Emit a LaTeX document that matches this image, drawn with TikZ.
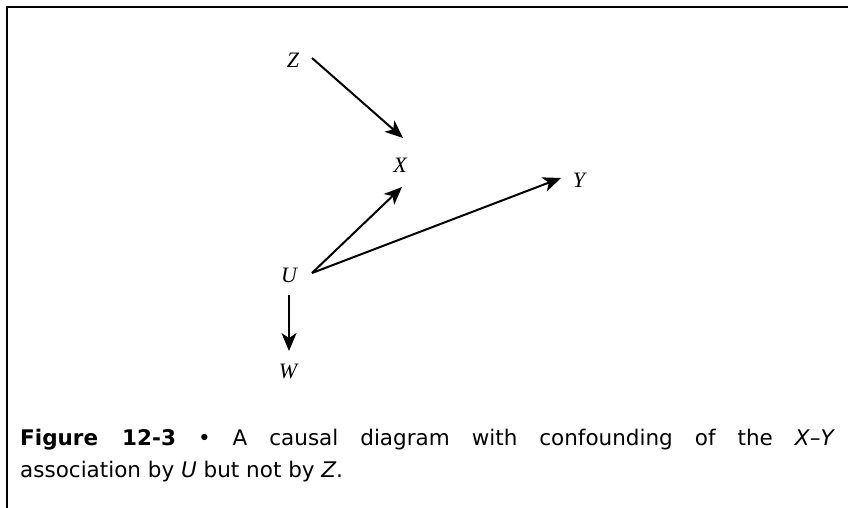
\documentclass[tikz,border=0pt]{standalone}
\usepackage{fontspec}
\setmainfont{DejaVu Sans}
\newfontfamily\lbl{Liberation Serif}
\usetikzlibrary{arrows.meta}
\tikzset{
  var/.style={font=\lbl\itshape\fontsize{22}{26}\selectfont, inner sep=0pt},
  causal/.style={line width=2pt, -{Stealth[length=18pt,width=15pt,inset=5pt]}},
  frame/.style={line width=2pt, line cap=rect},
  caption/.style={anchor=north west, inner sep=0pt, text width=815pt, align=justify,
    font=\fontsize{21.5}{32}\selectfont}
}
\begin{document}
\begin{tikzpicture}[x=1pt,y=-1pt]
\useasboundingbox (0,0) rectangle (848,507);
\fill[white] (0,0) rectangle (848,507);
% frame (top and left edges)
\coordinate (fa) at (848,6.5);
\coordinate (fb) at (6.5,6.5);
\coordinate (fc) at (6.5,507);
\draw[frame] (fa) -- (fb) -- (fc);
% variables
\node[var] (Z) at (293,60) {Z};
\node[var] (X) at (400,165) {X};
\node[var] (Y) at (579,180) {Y};
\node[var] (U) at (289,275) {U};
\node[var] (W) at (288,371) {W};
% connector ends
\coordinate (zs) at (312,58);
\coordinate (xt) at (403,138);
\coordinate (us) at (312,273);
\coordinate (xb) at (402,187);
\coordinate (yt) at (561,178);
\coordinate (ws) at (289,295);
\coordinate (wt) at (289,351);
\draw[causal] (zs) -- (xt);
\draw[causal] (us) -- (xb);
\draw[causal] (us) -- (yt);
\draw[causal] (ws) -- (wt);
% caption
\node[caption] (cap) at (20,429) {\textbf{Figure 12-3} • A causal diagram with confounding of the \textit{X}–\textit{Y}\linebreak association by \textit{U} but not by \textit{Z}.};
\end{tikzpicture}
\end{document}
